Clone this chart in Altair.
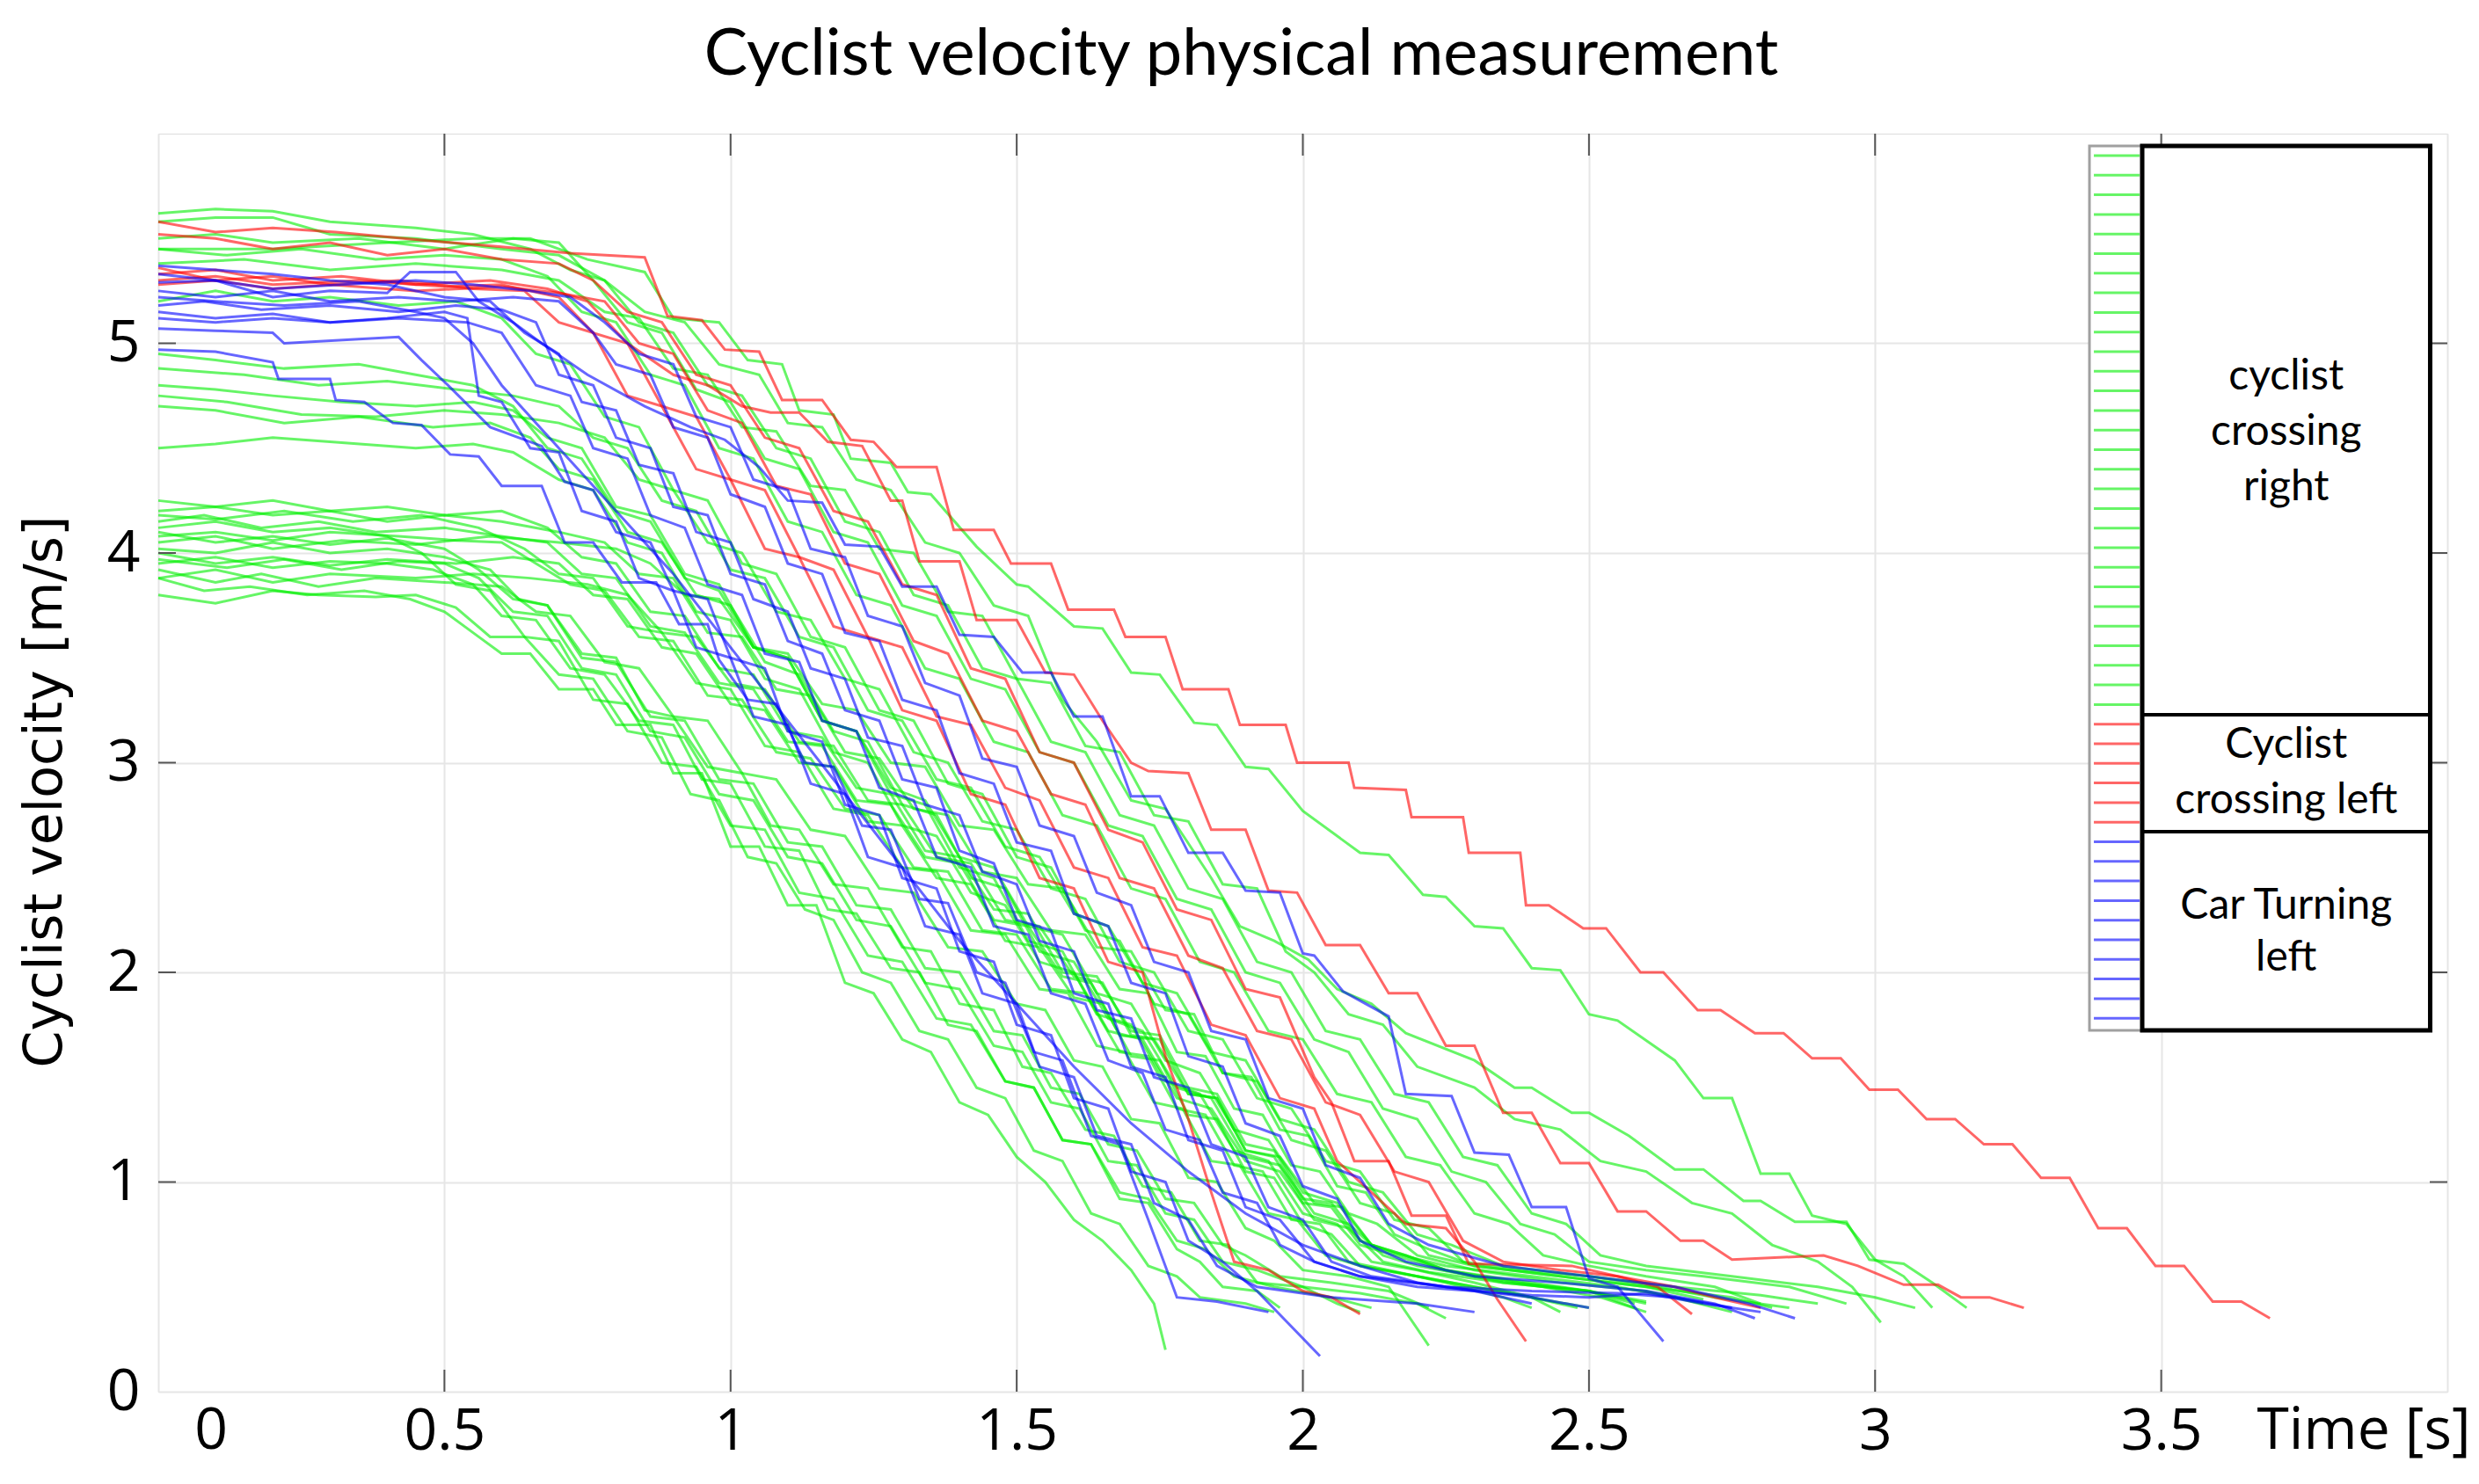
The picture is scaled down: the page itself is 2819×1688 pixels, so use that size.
import altair as alt
import pandas as pd

# ---------------- data (t [s], v [m/s]) ----------------
GREEN_CURVES = [
    [(0,3.88),(0.08,3.82),(0.16,3.84),(0.26,3.8),(0.36,3.82),(0.44,3.78),(0.5,3.72),(0.55,3.62),(0.6,3.52),(0.65,3.52),(0.7,3.35),(0.76,3.35),(0.8,3.18),(0.86,3.18),(0.9,2.95),(0.95,2.95),(1.0,2.6),(1.05,2.6),(1.1,2.32),(1.15,2.32),(1.2,1.95),(1.25,1.9),(1.3,1.68),(1.35,1.62),(1.4,1.38),(1.45,1.32),(1.5,1.12),(1.55,1.0),(1.6,0.82),(1.65,0.72),(1.7,0.58),(1.74,0.42),(1.76,0.2)],
    [(0,3.8),(0.1,3.76),(0.2,3.82),(0.28,3.8),(0.38,3.79),(0.45,3.8),(0.52,3.74),(0.58,3.6),(0.64,3.6),(0.7,3.42),(0.76,3.4),(0.82,3.15),(0.88,3.12),(0.93,2.85),(0.98,2.82),(1.03,2.55),(1.08,2.52),(1.13,2.3),(1.18,2.25),(1.23,2.0),(1.28,1.95),(1.33,1.72),(1.38,1.68),(1.43,1.45),(1.48,1.4),(1.53,1.15),(1.58,1.1),(1.63,0.85),(1.68,0.8),(1.73,0.6),(1.78,0.55),(1.82,0.45),(1.9,0.42),(1.95,0.38)],
    [(0,3.95),(0.1,3.98),(0.2,3.93),(0.3,3.96),(0.4,3.95),(0.48,3.92),(0.55,3.85),(0.6,3.7),(0.66,3.68),(0.72,3.45),(0.78,3.42),(0.84,3.2),(0.9,3.18),(0.95,2.92),(1.0,2.9),(1.06,2.6),(1.12,2.58),(1.17,2.3),(1.22,2.28),(1.28,2.02),(1.33,2.0),(1.38,1.75),(1.43,1.72),(1.48,1.48),(1.53,1.45),(1.58,1.2),(1.63,1.18),(1.68,0.92),(1.73,0.9),(1.78,0.68),(1.82,0.62),(1.86,0.5),(1.92,0.48),(1.96,0.4)],
    [(0,4.02),(0.1,4.0),(0.2,4.05),(0.3,4.0),(0.4,4.02),(0.5,3.98),(0.58,3.92),(0.63,3.78),(0.68,3.75),(0.74,3.52),(0.8,3.5),(0.85,3.25),(0.9,3.22),(0.96,2.98),(1.02,2.95),(1.07,2.7),(1.12,2.68),(1.18,2.42),(1.24,2.4),(1.3,2.12),(1.35,2.1),(1.4,1.85),(1.46,1.82),(1.51,1.55),(1.56,1.52),(1.62,1.25),(1.67,1.22),(1.72,0.98),(1.77,0.95),(1.82,0.72),(1.87,0.7),(1.92,0.52),(2.0,0.5),(2.06,0.42),(2.1,0.38)],
    [(0,3.92),(0.1,3.86),(0.18,3.9),(0.28,3.84),(0.38,3.88),(0.5,3.86),(0.6,3.84),(0.66,3.72),(0.72,3.7),(0.78,3.48),(0.84,3.45),(0.9,3.22),(0.96,3.2),(1.02,2.95),(1.08,2.92),(1.14,2.68),(1.2,2.65),(1.26,2.4),(1.32,2.38),(1.38,2.12),(1.44,2.1),(1.5,1.85),(1.55,1.82),(1.6,1.58),(1.65,1.55),(1.7,1.3),(1.75,1.28),(1.8,1.02),(1.85,1.0),(1.9,0.78),(1.95,0.72),(2.0,0.58),(2.08,0.55),(2.15,0.5),(2.22,0.22)],
    [(0,4.08),(0.1,4.1),(0.2,4.06),(0.3,4.1),(0.42,4.08),(0.52,4.06),(0.6,4.05),(0.66,3.95),(0.72,3.85),(0.78,3.82),(0.84,3.6),(0.9,3.58),(0.96,3.32),(1.02,3.3),(1.08,3.05),(1.14,3.02),(1.2,2.78),(1.26,2.75),(1.32,2.5),(1.38,2.48),(1.44,2.2),(1.5,2.18),(1.56,1.92),(1.62,1.9),(1.68,1.62),(1.73,1.6),(1.78,1.35),(1.83,1.32),(1.88,1.08),(1.93,1.05),(1.98,0.82),(2.03,0.8),(2.08,0.62),(2.15,0.58),(2.25,0.52),(2.35,0.45),(2.4,0.4)],
    [(0,4.15),(0.08,4.18),(0.18,4.12),(0.28,4.15),(0.38,4.1),(0.5,4.12),(0.6,4.08),(0.68,4.05),(0.74,3.9),(0.8,3.88),(0.86,3.65),(0.92,3.62),(0.98,3.38),(1.04,3.35),(1.1,3.1),(1.16,3.08),(1.22,2.82),(1.28,2.8),(1.34,2.55),(1.4,2.52),(1.46,2.25),(1.52,2.22),(1.58,1.98),(1.63,1.95),(1.68,1.7),(1.74,1.68),(1.8,1.42),(1.85,1.4),(1.9,1.15),(1.96,1.12),(2.02,0.9),(2.07,0.88),(2.12,0.7),(2.18,0.65),(2.25,0.58),(2.4,0.52),(2.5,0.48),(2.6,0.42)],
    [(0,4.0),(0.1,3.95),(0.2,3.98),(0.3,3.94),(0.4,3.97),(0.52,3.95),(0.62,3.98),(0.7,3.95),(0.76,3.8),(0.82,3.78),(0.88,3.55),(0.94,3.52),(1.0,3.28),(1.06,3.25),(1.12,3.0),(1.18,2.98),(1.24,2.72),(1.3,2.7),(1.36,2.45),(1.42,2.42),(1.48,2.15),(1.54,2.12),(1.6,1.88),(1.65,1.85),(1.7,1.6),(1.75,1.58),(1.8,1.32),(1.85,1.3),(1.9,1.05),(1.95,1.02),(2.0,0.8),(2.05,0.75),(2.1,0.6),(2.2,0.55),(2.3,0.5),(2.4,0.45),(2.45,0.38)],
    [(0,4.2),(0.1,4.22),(0.2,4.18),(0.3,4.2),(0.4,4.15),(0.5,4.18),(0.6,4.15),(0.7,4.1),(0.78,4.05),(0.84,3.9),(0.9,3.88),(0.96,3.62),(1.02,3.6),(1.08,3.35),(1.14,3.32),(1.2,3.05),(1.26,3.02),(1.32,2.78),(1.38,2.75),(1.44,2.48),(1.5,2.45),(1.56,2.2),(1.62,2.18),(1.68,1.92),(1.73,1.9),(1.78,1.62),(1.83,1.6),(1.88,1.35),(1.93,1.32),(1.98,1.08),(2.03,1.05),(2.08,0.85),(2.13,0.8),(2.2,0.65),(2.3,0.58),(2.45,0.52),(2.6,0.48),(2.7,0.42)],
    [(0,4.05),(0.1,4.08),(0.2,4.02),(0.32,4.06),(0.45,4.04),(0.58,4.08),(0.7,4.05),(0.8,4.02),(0.86,3.95),(0.92,3.8),(0.98,3.78),(1.04,3.55),(1.1,3.52),(1.16,3.28),(1.22,3.25),(1.28,3.0),(1.34,2.98),(1.4,2.7),(1.46,2.68),(1.52,2.42),(1.58,2.4),(1.64,2.12),(1.7,2.1),(1.76,1.82),(1.81,1.8),(1.86,1.52),(1.91,1.5),(1.96,1.25),(2.01,1.22),(2.06,0.98),(2.11,0.95),(2.16,0.75),(2.22,0.68),(2.3,0.6),(2.45,0.55),(2.6,0.5),(2.75,0.45),(2.82,0.4)],
    [(0,4.12),(0.1,4.15),(0.2,4.1),(0.3,4.12),(0.4,4.08),(0.46,4.0),(0.52,3.85),(0.58,3.82),(0.64,3.6),(0.7,3.58),(0.76,3.3),(0.82,3.28),(0.88,3.0),(0.94,2.98),(1.0,2.7),(1.06,2.68),(1.12,2.38),(1.18,2.35),(1.24,2.08),(1.3,2.05),(1.36,1.78),(1.42,1.75),(1.48,1.48),(1.53,1.45),(1.58,1.2),(1.63,1.18),(1.68,0.95),(1.73,0.92),(1.78,0.72),(1.83,0.68),(1.88,0.55),(1.95,0.5),(2.05,0.45),(2.12,0.4)],
    [(0,3.97),(0.12,3.93),(0.22,3.97),(0.32,3.92),(0.42,3.96),(0.5,3.95),(0.56,3.88),(0.62,3.72),(0.68,3.7),(0.74,3.45),(0.8,3.42),(0.86,3.15),(0.92,3.12),(0.98,2.85),(1.04,2.82),(1.1,2.55),(1.16,2.52),(1.22,2.25),(1.28,2.22),(1.34,1.95),(1.4,1.92),(1.46,1.65),(1.51,1.62),(1.56,1.38),(1.61,1.35),(1.66,1.1),(1.71,1.08),(1.76,0.85),(1.81,0.82),(1.86,0.62),(1.92,0.58),(2.0,0.5),(2.1,0.47),(2.2,0.42),(2.25,0.35)],
    [(0,4.25),(0.1,4.22),(0.2,4.25),(0.3,4.2),(0.4,4.22),(0.5,4.18),(0.6,4.2),(0.68,4.12),(0.74,3.98),(0.8,3.95),(0.86,3.72),(0.92,3.7),(0.98,3.45),(1.04,3.42),(1.1,3.15),(1.16,3.12),(1.22,2.88),(1.28,2.85),(1.34,2.58),(1.4,2.55),(1.46,2.3),(1.52,2.28),(1.58,2.0),(1.64,1.98),(1.7,1.72),(1.75,1.7),(1.8,1.45),(1.85,1.42),(1.9,1.18),(1.95,1.15),(2.0,0.92),(2.05,0.9),(2.1,0.72),(2.16,0.66),(2.25,0.6),(2.4,0.55),(2.55,0.5),(2.65,0.45),(2.75,0.38)],
    [(0,3.88),(0.1,3.92),(0.2,3.86),(0.3,3.9),(0.45,3.88),(0.55,3.9),(0.65,3.88),(0.75,3.85),(0.82,3.8),(0.88,3.62),(0.94,3.6),(1.0,3.38),(1.06,3.35),(1.12,3.1),(1.18,3.08),(1.24,2.82),(1.3,2.8),(1.36,2.55),(1.42,2.52),(1.48,2.25),(1.54,2.22),(1.6,1.98),(1.65,1.95),(1.7,1.7),(1.75,1.68),(1.8,1.42),(1.85,1.4),(1.9,1.15),(1.95,1.12),(2.0,0.9),(2.05,0.88),(2.1,0.7),(2.16,0.65),(2.25,0.58),(2.35,0.52),(2.5,0.48),(2.58,0.4)],
    [(0,4.1),(0.1,4.05),(0.2,4.08),(0.3,4.04),(0.4,4.07),(0.5,4.02),(0.56,3.92),(0.62,3.78),(0.68,3.75),(0.74,3.5),(0.8,3.48),(0.86,3.22),(0.92,3.2),(0.98,2.92),(1.04,2.9),(1.1,2.62),(1.16,2.6),(1.22,2.32),(1.28,2.3),(1.34,2.02),(1.4,2.0),(1.46,1.72),(1.51,1.7),(1.56,1.45),(1.61,1.42),(1.66,1.18),(1.71,1.15),(1.76,0.92),(1.81,0.9),(1.86,0.7),(1.9,0.65),(1.96,0.55),(2.05,0.52),(2.15,0.48),(2.22,0.4)],
    [(0,4.18),(0.1,4.16),(0.22,4.2),(0.34,4.15),(0.46,4.18),(0.56,4.12),(0.64,4.02),(0.7,3.9),(0.76,3.88),(0.82,3.65),(0.88,3.62),(0.94,3.38),(1.0,3.35),(1.06,3.08),(1.12,3.05),(1.18,2.78),(1.24,2.75),(1.3,2.5),(1.36,2.48),(1.42,2.2),(1.48,2.18),(1.54,1.92),(1.59,1.9),(1.64,1.65),(1.69,1.62),(1.74,1.38),(1.79,1.35),(1.84,1.1),(1.89,1.08),(1.94,0.85),(1.99,0.82),(2.04,0.65),(2.1,0.6),(2.2,0.55),(2.3,0.5),(2.4,0.45),(2.5,0.4)],
    # high-speed group
    [(0,5.45),(0.2,5.45),(0.4,5.48),(0.55,5.5),(0.65,5.5),(0.75,5.4),(0.85,5.34),(0.9,5.12),(0.98,5.1),(1.03,4.92),(1.09,4.9),(1.12,4.68),(1.18,4.66),(1.21,4.45),(1.28,4.43),(1.31,4.29),(1.35,4.28),(1.43,4.03),(1.5,3.85),(1.52,3.84),(1.6,3.65),(1.65,3.64),(1.7,3.43),(1.75,3.42),(1.81,3.19),(1.85,3.18),(1.9,2.98),(1.94,2.97),(2.0,2.77),(2.1,2.57),(2.15,2.56),(2.21,2.37),(2.25,2.36),(2.3,2.22),(2.35,2.21),(2.4,2.02),(2.45,2.01),(2.5,1.8),(2.55,1.77),(2.65,1.58),(2.7,1.4),(2.75,1.4),(2.8,1.04),(2.85,1.04),(2.89,0.84),(2.95,0.8),(3.0,0.63),(3.05,0.55),(3.1,0.4)],
    [(0,5.58),(0.1,5.6),(0.2,5.6),(0.3,5.52),(0.45,5.5),(0.6,5.45),(0.7,5.42),(0.78,5.3),(0.85,5.15),(0.92,5.1),(0.98,4.9),(1.05,4.85),(1.1,4.62),(1.16,4.6),(1.22,4.35),(1.28,4.3),(1.34,4.05),(1.4,4.0),(1.46,3.75),(1.52,3.7),(1.58,3.3),(1.64,3.1),(1.7,2.82),(1.76,2.78),(1.84,2.45),(1.89,2.22),(1.95,2.15),(2.01,2.06),(2.06,1.92),(2.12,1.85),(2.18,1.71),(2.3,1.58),(2.37,1.45),(2.4,1.45),(2.47,1.33),(2.5,1.33),(2.57,1.22),(2.65,1.06),(2.7,1.06),(2.77,0.91),(2.8,0.91),(2.86,0.81),(2.95,0.81),(2.99,0.63),(3.05,0.61),(3.1,0.52),(3.16,0.4)],
    [(0,5.38),(0.15,5.4),(0.3,5.35),(0.45,5.38),(0.6,5.35),(0.7,5.3),(0.78,5.15),(0.84,5.12),(0.9,4.88),(0.96,4.85),(1.02,4.6),(1.08,4.58),(1.14,4.32),(1.2,4.3),(1.26,4.02),(1.32,4.0),(1.38,3.72),(1.44,3.7),(1.5,3.4),(1.56,3.38),(1.62,3.08),(1.68,3.05),(1.74,2.75),(1.8,2.72),(1.86,2.42),(1.92,2.4),(1.97,2.1),(2.02,2.0),(2.08,1.8),(2.14,1.75),(2.2,1.55),(2.3,1.45),(2.37,1.3),(2.45,1.25),(2.52,1.1),(2.6,1.05),(2.68,0.9),(2.75,0.85),(2.82,0.7),(2.9,0.62),(2.96,0.5),(3.01,0.33)],
    [(0,5.62),(0.1,5.64),(0.2,5.63),(0.3,5.58),(0.45,5.55),(0.55,5.52),(0.65,5.45),(0.72,5.35),(0.78,5.3),(0.84,5.1),(0.9,5.05),(0.96,4.8),(1.02,4.75),(1.08,4.5),(1.14,4.45),(1.2,4.15),(1.26,4.1),(1.32,3.8),(1.38,3.75),(1.44,3.45),(1.5,3.4),(1.56,3.1),(1.62,3.05),(1.68,2.75),(1.74,2.7),(1.8,2.4),(1.86,2.35),(1.92,2.05),(1.98,2.0),(2.04,1.72),(2.1,1.68),(2.16,1.42),(2.22,1.38),(2.28,1.12),(2.34,1.08),(2.4,0.85),(2.46,0.8),(2.52,0.65),(2.6,0.6),(2.75,0.55),(2.9,0.5),(3.0,0.45),(3.07,0.4)],
    [(0,5.5),(0.1,5.52),(0.2,5.48),(0.35,5.5),(0.5,5.45),(0.62,5.5),(0.7,5.48),(0.76,5.3),(0.82,5.1),(0.88,5.05),(0.94,4.78),(1.0,4.72),(1.06,4.45),(1.12,4.4),(1.18,4.1),(1.24,4.05),(1.3,3.75),(1.36,3.7),(1.42,3.4),(1.48,3.35),(1.54,3.05),(1.6,3.0),(1.66,2.7),(1.72,2.65),(1.78,2.35),(1.84,2.3),(1.9,2.0),(1.96,1.95),(2.02,1.68),(2.08,1.62),(2.14,1.35),(2.2,1.3),(2.26,1.05),(2.32,1.0),(2.38,0.8),(2.44,0.75),(2.5,0.62),(2.6,0.58),(2.7,0.55),(2.85,0.5),(2.95,0.42)],
    [(0,5.45),(0.12,5.42),(0.25,5.45),(0.38,5.4),(0.5,5.42),(0.6,5.4),(0.68,5.32),(0.74,5.15),(0.8,5.1),(0.86,4.85),(0.92,4.8),(0.98,4.5),(1.04,4.45),(1.1,4.15),(1.16,4.1),(1.22,3.8),(1.28,3.75),(1.34,3.45),(1.4,3.4),(1.46,3.1),(1.52,3.05),(1.58,2.75),(1.64,2.7),(1.7,2.4),(1.76,2.35),(1.82,2.05),(1.88,2.0),(1.94,1.72),(2.0,1.68),(2.06,1.42),(2.12,1.38),(2.18,1.12),(2.24,1.08),(2.3,0.85),(2.36,0.8),(2.42,0.65),(2.5,0.6),(2.6,0.55),(2.72,0.5),(2.8,0.42)],
    [(0,5.2),(0.1,5.25),(0.2,5.2),(0.3,5.22),(0.42,5.18),(0.52,5.2),(0.6,5.12),(0.66,4.95),(0.72,4.9),(0.78,4.65),(0.84,4.6),(0.9,4.3),(0.96,4.25),(1.02,3.95),(1.08,3.9),(1.14,3.6),(1.2,3.55),(1.26,3.25),(1.32,3.2),(1.38,2.9),(1.44,2.85),(1.5,2.55),(1.56,2.5),(1.62,2.2),(1.68,2.15),(1.74,1.85),(1.8,1.8),(1.86,1.52),(1.92,1.48),(1.98,1.2),(2.04,1.15),(2.1,0.9),(2.16,0.85),(2.22,0.65),(2.3,0.6),(2.45,0.55),(2.6,0.5),(2.7,0.44)],
    [(0,4.95),(0.1,4.92),(0.22,4.88),(0.35,4.9),(0.45,4.85),(0.55,4.8),(0.62,4.7),(0.68,4.5),(0.74,4.45),(0.8,4.2),(0.86,4.15),(0.92,3.88),(0.98,3.82),(1.04,3.55),(1.1,3.5),(1.16,3.2),(1.22,3.15),(1.28,2.88),(1.34,2.82),(1.4,2.55),(1.46,2.5),(1.52,2.22),(1.58,2.18),(1.64,1.9),(1.7,1.85),(1.76,1.58),(1.82,1.52),(1.88,1.25),(1.94,1.2),(2.0,0.95),(2.06,0.9),(2.12,0.7),(2.18,0.65),(2.25,0.58),(2.38,0.52),(2.5,0.48),(2.58,0.42)],
    [(0,4.88),(0.15,4.85),(0.28,4.8),(0.4,4.82),(0.52,4.78),(0.62,4.75),(0.7,4.7),(0.76,4.55),(0.82,4.5),(0.88,4.25),(0.94,4.2),(1.0,3.92),(1.06,3.88),(1.12,3.6),(1.18,3.55),(1.24,3.25),(1.3,3.2),(1.36,2.92),(1.42,2.88),(1.48,2.6),(1.54,2.55),(1.6,2.28),(1.66,2.22),(1.72,1.95),(1.78,1.9),(1.84,1.62),(1.9,1.58),(1.96,1.3),(2.02,1.25),(2.08,1.0),(2.14,0.95),(2.2,0.75),(2.26,0.7),(2.35,0.6),(2.5,0.55),(2.65,0.5),(2.8,0.46),(2.9,0.42)],
    [(0,4.8),(0.1,4.78),(0.2,4.75),(0.32,4.72),(0.45,4.7),(0.55,4.72),(0.62,4.68),(0.68,4.55),(0.74,4.5),(0.8,4.22),(0.86,4.18),(0.92,3.9),(0.98,3.85),(1.04,3.55),(1.1,3.5),(1.16,3.2),(1.22,3.15),(1.28,2.85),(1.34,2.8),(1.4,2.5),(1.46,2.45),(1.52,2.15),(1.58,2.1),(1.64,1.8),(1.7,1.75),(1.76,1.48),(1.82,1.42),(1.88,1.15),(1.94,1.1),(2.0,0.85),(2.06,0.8),(2.12,0.62),(2.2,0.58),(2.3,0.52),(2.4,0.45),(2.48,0.4)],
    [(0,4.75),(0.12,4.72),(0.25,4.66),(0.38,4.65),(0.5,4.68),(0.6,4.66),(0.7,4.62),(0.78,4.55),(0.84,4.35),(0.9,4.3),(0.96,4.05),(1.02,4.0),(1.08,3.72),(1.14,3.68),(1.2,3.4),(1.26,3.35),(1.32,3.05),(1.38,3.0),(1.44,2.72),(1.5,2.68),(1.56,2.4),(1.62,2.35),(1.68,2.05),(1.74,2.0),(1.8,1.72),(1.86,1.68),(1.92,1.4),(1.98,1.35),(2.04,1.1),(2.1,1.05),(2.16,0.82),(2.22,0.78),(2.28,0.62),(2.38,0.58),(2.5,0.55),(2.62,0.5),(2.72,0.45),(2.85,0.4)],
    [(0,4.5),(0.1,4.52),(0.2,4.55),(0.3,4.53),(0.45,4.5),(0.55,4.52),(0.62,4.48),(0.7,4.35),(0.76,4.3),(0.82,4.05),(0.88,4.0),(0.94,3.72),(1.0,3.68),(1.06,3.4),(1.12,3.35),(1.18,3.05),(1.24,3.0),(1.3,2.7),(1.36,2.65),(1.42,2.38),(1.48,2.32),(1.54,2.05),(1.6,2.0),(1.66,1.72),(1.72,1.68),(1.78,1.4),(1.84,1.35),(1.9,1.1),(1.96,1.05),(2.02,0.82),(2.08,0.78),(2.14,0.62),(2.22,0.57),(2.35,0.52),(2.5,0.48),(2.6,0.43)],
    [(0,4.7),(0.1,4.68),(0.22,4.62),(0.35,4.65),(0.48,4.6),(0.58,4.62),(0.65,4.55),(0.7,4.4),(0.76,4.35),(0.82,4.1),(0.88,4.05),(0.94,3.8),(1.0,3.75),(1.06,3.48),(1.12,3.42),(1.18,3.15),(1.24,3.1),(1.3,2.8),(1.36,2.75),(1.42,2.45),(1.48,2.4),(1.54,2.1),(1.6,2.05),(1.66,1.78),(1.72,1.72),(1.78,1.45),(1.84,1.4),(1.9,1.12),(1.96,1.08),(2.02,0.85),(2.08,0.8),(2.14,0.65),(2.2,0.6),(2.3,0.55),(2.42,0.5),(2.52,0.45),(2.6,0.38)],
]

RED_CURVES = [
    [(0,5.58),(0.1,5.53),(0.2,5.55),(0.31,5.53),(0.47,5.49),(0.6,5.46),(0.72,5.43),(0.85,5.41),(0.89,5.13),(0.95,5.11),(0.99,4.97),(1.05,4.96),(1.09,4.73),(1.16,4.73),(1.21,4.54),(1.25,4.53),(1.29,4.41),(1.36,4.41),(1.39,4.11),(1.46,4.11),(1.49,3.95),(1.56,3.95),(1.59,3.73),(1.67,3.73),(1.69,3.6),(1.76,3.6),(1.79,3.35),(1.87,3.35),(1.89,3.18),(1.97,3.18),(1.99,3.0),(2.08,3.0),(2.09,2.88),(2.18,2.87),(2.19,2.74),(2.28,2.74),(2.29,2.57),(2.38,2.57),(2.39,2.32),(2.43,2.32),(2.49,2.21),(2.53,2.21),(2.59,2.0),(2.63,2.0),(2.69,1.82),(2.73,1.82),(2.79,1.71),(2.84,1.71),(2.89,1.59),(2.94,1.59),(2.99,1.44),(3.04,1.44),(3.09,1.3),(3.14,1.3),(3.19,1.18),(3.24,1.18),(3.29,1.02),(3.34,1.02),(3.39,0.78),(3.44,0.78),(3.49,0.6),(3.54,0.6),(3.59,0.43),(3.64,0.43),(3.69,0.35)],
    [(0,5.33),(0.1,5.35),(0.2,5.3),(0.32,5.32),(0.45,5.28),(0.58,5.3),(0.68,5.26),(0.75,5.2),(0.82,5.0),(0.9,4.85),(0.96,4.8),(1.02,4.7),(1.07,4.67),(1.12,4.67),(1.17,4.53),(1.23,4.51),(1.28,4.25),(1.3,4.25),(1.33,3.96),(1.4,3.96),(1.43,3.68),(1.5,3.68),(1.55,3.43),(1.6,3.42),(1.65,3.2),(1.7,3.0),(1.73,2.96),(1.8,2.95),(1.84,2.68),(1.9,2.68),(1.94,2.39),(1.99,2.38),(2.04,2.13),(2.1,2.13),(2.15,1.9),(2.2,1.9),(2.25,1.65),(2.3,1.65),(2.35,1.33),(2.4,1.33),(2.45,1.09),(2.5,1.09),(2.55,0.86),(2.6,0.86),(2.66,0.72),(2.7,0.72),(2.75,0.63),(2.91,0.65),(2.97,0.6),(3.05,0.51),(3.11,0.51),(3.15,0.45),(3.2,0.45),(3.26,0.4)],
    [(0,5.3),(0.1,5.32),(0.2,5.28),(0.35,5.3),(0.5,5.27),(0.6,5.28),(0.7,5.22),(0.76,5.05),(0.82,5.0),(0.88,4.7),(0.94,4.65),(1.0,4.35),(1.06,4.3),(1.12,3.98),(1.18,3.92),(1.24,3.6),(1.3,3.55),(1.36,3.22),(1.42,3.18),(1.48,2.88),(1.54,2.82),(1.6,2.5),(1.66,2.45),(1.72,2.12),(1.78,2.08),(1.84,1.75),(1.9,1.7),(1.96,1.4),(2.02,1.35),(2.06,1.1),(2.12,0.95),(2.18,0.8),(2.25,0.78),(2.3,0.62),(2.34,0.44),(2.39,0.24)],
    [(0,5.36),(0.1,5.3),(0.2,5.32),(0.3,5.28),(0.42,5.3),(0.55,5.26),(0.64,5.25),(0.7,5.1),(0.76,5.05),(0.82,4.75),(0.88,4.7),(0.94,4.4),(1.0,4.35),(1.06,4.02),(1.12,3.98),(1.18,3.65),(1.24,3.6),(1.3,3.25),(1.36,3.2),(1.42,2.85),(1.48,2.8),(1.54,2.45),(1.6,2.4),(1.66,2.05),(1.72,2.0),(1.76,1.6),(1.8,1.3),(1.84,0.95),(1.88,0.62),(1.94,0.58),(2.0,0.48),(2.05,0.45),(2.1,0.37)],
    [(0,5.52),(0.1,5.5),(0.2,5.45),(0.3,5.48),(0.4,5.42),(0.5,5.45),(0.6,5.4),(0.7,5.38),(0.76,5.3),(0.82,5.15),(0.88,5.1),(0.94,4.85),(1.0,4.8),(1.06,4.55),(1.12,4.5),(1.18,4.2),(1.24,4.15),(1.3,3.85),(1.36,3.8),(1.42,3.45),(1.48,3.4),(1.54,3.05),(1.6,3.0),(1.66,2.68),(1.72,2.62),(1.78,2.3),(1.84,2.25),(1.9,1.92),(1.96,1.88),(2.02,1.5),(2.05,1.38),(2.09,1.1),(2.15,1.1),(2.19,0.84),(2.25,0.84),(2.29,0.61),(2.47,0.6),(2.55,0.55),(2.62,0.5),(2.68,0.37)],
    [(0,5.28),(0.1,5.3),(0.2,5.26),(0.3,5.28),(0.45,5.25),(0.6,5.27),(0.7,5.24),(0.78,5.2),(0.84,5.0),(0.9,4.95),(0.96,4.68),(1.02,4.62),(1.08,4.32),(1.14,4.28),(1.2,3.95),(1.26,3.9),(1.32,3.58),(1.38,3.52),(1.44,3.2),(1.5,3.15),(1.56,2.85),(1.62,2.8),(1.68,2.45),(1.74,2.4),(1.8,2.08),(1.86,2.02),(1.92,1.72),(1.98,1.68),(2.04,1.38),(2.1,1.32),(2.16,1.05),(2.22,1.0),(2.28,0.72),(2.35,0.62),(2.45,0.58),(2.55,0.55),(2.65,0.5),(2.72,0.45),(2.8,0.4)],
]

BLUE_CURVES = [
    [(0,4.97),(0.1,4.96),(0.2,4.91),(0.21,4.83),(0.3,4.83),(0.31,4.73),(0.36,4.72),(0.41,4.62),(0.46,4.61),(0.51,4.47),(0.56,4.46),(0.6,4.32),(0.67,4.32),(0.71,4.05),(0.76,4.05),(0.81,3.86),(0.87,3.86),(0.91,3.66),(0.96,3.66),(0.98,3.49),(1.03,3.3),(1.08,3.28),(1.13,3.0),(1.18,2.98),(1.23,2.7),(1.28,2.68),(1.33,2.35),(1.38,2.33),(1.43,2.0),(1.48,1.95),(1.53,1.62),(1.58,1.58),(1.63,1.22),(1.68,1.18),(1.73,0.82),(1.78,0.45),(1.85,0.43),(1.94,0.38)],
    [(0,5.07),(0.1,5.06),(0.2,5.05),(0.22,5.0),(0.35,5.02),(0.42,5.03),(0.46,4.92),(0.51,4.79),(0.58,4.6),(0.63,4.55),(0.67,4.51),(0.71,4.34),(0.76,4.3),(0.8,4.1),(0.86,4.05),(0.9,3.82),(0.96,3.78),(1.0,3.5),(1.06,3.45),(1.1,3.15),(1.16,3.1),(1.2,2.8),(1.26,2.75),(1.3,2.45),(1.36,2.4),(1.4,2.1),(1.46,2.05),(1.5,1.75),(1.56,1.7),(1.6,1.4),(1.66,1.35),(1.7,1.05),(1.76,1.0),(1.8,0.72),(1.86,0.62),(1.92,0.48),(2.03,0.17)],
    [(0,5.12),(0.1,5.1),(0.2,5.12),(0.3,5.1),(0.4,5.12),(0.5,5.15),(0.54,5.12),(0.56,4.75),(0.6,4.72),(0.65,4.5),(0.7,4.48),(0.74,4.2),(0.8,4.15),(0.84,3.88),(0.9,3.82),(0.94,3.55),(1.0,3.5),(1.04,3.22),(1.1,3.18),(1.14,2.9),(1.2,2.85),(1.24,2.55),(1.3,2.5),(1.34,2.22),(1.4,2.18),(1.44,1.9),(1.5,1.85),(1.54,1.55),(1.6,1.5),(1.64,1.22),(1.7,1.18),(1.74,0.9),(1.8,0.82),(1.85,0.6),(1.92,0.5),(2.05,0.45),(2.2,0.42),(2.3,0.38)],
    [(0,5.18),(0.08,5.2),(0.18,5.16),(0.3,5.18),(0.42,5.15),(0.52,5.18),(0.6,5.16),(0.66,5.1),(0.7,4.85),(0.76,4.8),(0.8,4.55),(0.86,4.5),(0.9,4.22),(0.96,4.18),(1.0,3.9),(1.06,3.85),(1.1,3.58),(1.16,3.52),(1.2,3.25),(1.26,3.2),(1.3,2.92),(1.36,2.88),(1.4,2.58),(1.46,2.52),(1.5,2.25),(1.56,2.2),(1.6,1.9),(1.66,1.85),(1.7,1.55),(1.76,1.5),(1.8,1.2),(1.86,1.15),(1.9,0.88),(1.96,0.82),(2.02,0.62),(2.1,0.55),(2.25,0.5),(2.4,0.45),(2.5,0.4)],
    [(0,5.25),(0.1,5.22),(0.2,5.25),(0.3,5.2),(0.42,5.22),(0.52,5.2),(0.62,5.22),(0.7,5.2),(0.76,5.05),(0.8,4.9),(0.86,4.85),(0.9,4.6),(0.96,4.55),(1.0,4.28),(1.06,4.22),(1.1,3.95),(1.16,3.9),(1.2,3.62),(1.26,3.58),(1.3,3.3),(1.36,3.25),(1.4,2.95),(1.46,2.9),(1.5,2.62),(1.56,2.58),(1.6,2.28),(1.66,2.22),(1.7,1.95),(1.76,1.9),(1.8,1.6),(1.86,1.55),(1.9,1.28),(1.96,1.22),(2.0,0.98),(2.06,0.92),(2.1,0.72),(2.18,0.62),(2.3,0.55),(2.45,0.52),(2.6,0.48),(2.72,0.42),(2.79,0.35)],
    [(0,5.29),(0.1,5.3),(0.2,5.26),(0.32,5.28),(0.45,5.3),(0.55,5.28),(0.65,5.25),(0.72,5.22),(0.78,5.1),(0.84,4.95),(0.9,4.9),(0.94,4.65),(1.0,4.6),(1.04,4.35),(1.1,4.3),(1.14,4.02),(1.2,3.98),(1.24,3.7),(1.3,3.65),(1.34,3.38),(1.4,3.32),(1.44,3.02),(1.5,2.98),(1.54,2.7),(1.6,2.65),(1.64,2.38),(1.7,2.32),(1.74,2.05),(1.8,2.0),(1.84,1.72),(1.9,1.68),(1.94,1.4),(2.0,1.35),(2.04,1.08),(2.1,1.02),(2.15,0.8),(2.22,0.7),(2.35,0.6),(2.5,0.55),(2.65,0.5),(2.78,0.42),(2.86,0.35)],
    [(0,5.33),(0.1,5.3),(0.2,5.22),(0.3,5.25),(0.4,5.24),(0.44,5.34),(0.52,5.34),(0.56,5.2),(0.62,5.1),(0.67,5.0),(0.75,4.85),(0.85,4.7),(0.93,4.6),(0.99,4.54),(1.05,4.41),(1.1,4.25),(1.16,4.24),(1.2,4.04),(1.26,4.03),(1.3,3.84),(1.36,3.84),(1.4,3.61),(1.46,3.6),(1.51,3.43),(1.56,3.43),(1.6,3.22),(1.65,3.22),(1.7,2.84),(1.75,2.84),(1.8,2.57),(1.86,2.57),(1.9,2.39),(1.96,2.38),(2.0,2.09),(2.02,2.08),(2.07,1.91),(2.15,1.79),(2.18,1.42),(2.26,1.41),(2.3,1.14),(2.36,1.13),(2.4,0.88),(2.46,0.88),(2.5,0.54),(2.55,0.5),(2.63,0.24)],
    [(0,5.37),(0.1,5.35),(0.2,5.33),(0.3,5.3),(0.4,5.28),(0.5,5.22),(0.58,5.2),(0.64,5.05),(0.7,4.95),(0.74,4.72),(0.8,4.68),(0.84,4.42),(0.9,4.38),(0.94,4.1),(1.0,4.05),(1.04,3.78),(1.1,3.72),(1.14,3.45),(1.2,3.4),(1.24,3.12),(1.3,3.08),(1.34,2.8),(1.4,2.75),(1.44,2.48),(1.5,2.42),(1.54,2.15),(1.6,2.1),(1.64,1.82),(1.7,1.78),(1.74,1.5),(1.8,1.45),(1.84,1.18),(1.9,1.12),(1.94,0.88),(2.0,0.82),(2.05,0.62),(2.12,0.55),(2.25,0.5),(2.4,0.48),(2.55,0.47),(2.65,0.45),(2.75,0.4)],
    [(0,5.22),(0.1,5.2),(0.22,5.18),(0.35,5.2),(0.45,5.15),(0.5,5.12),(0.55,5.0),(0.6,4.8),(0.7,4.5),(0.8,4.2),(0.9,3.9),(1.0,3.55),(1.1,3.2),(1.2,2.85),(1.3,2.5),(1.4,2.15),(1.5,1.85),(1.6,1.55),(1.7,1.28),(1.8,1.05),(1.9,0.85),(2.0,0.7),(2.1,0.6),(2.2,0.52),(2.3,0.48),(2.4,0.46),(2.5,0.45),(2.6,0.47),(2.7,0.42),(2.8,0.38)],
    [(0,5.15),(0.1,5.12),(0.2,5.14),(0.3,5.1),(0.42,5.12),(0.54,5.1),(0.6,5.05),(0.66,4.8),(0.72,4.75),(0.76,4.5),(0.82,4.45),(0.86,4.18),(0.92,4.12),(0.96,3.85),(1.02,3.8),(1.06,3.52),(1.12,3.48),(1.16,3.2),(1.22,3.15),(1.26,2.88),(1.32,2.82),(1.36,2.55),(1.42,2.5),(1.46,2.22),(1.52,2.18),(1.56,1.9),(1.62,1.85),(1.66,1.58),(1.72,1.52),(1.76,1.25),(1.82,1.2),(1.86,0.95),(1.92,0.9),(1.96,0.7),(2.02,0.62),(2.1,0.55),(2.2,0.5),(2.3,0.48),(2.4,0.42)],
]

GROUPS = ["green", "red", "blue"]
GROUP_COLORS = ["#00ee00", "#ff0000", "#0000ff"]
LEGEND_LABELS = {
    "green": ["cyclist", "crossing", "right"],
    "red": ["Cyclist", "crossing left"],
    "blue": ["Car Turning", "left"],
}
X_TICKS = [0, 0.5, 1, 1.5, 2, 2.5, 3, 3.5, 4]
Y_TICKS = [0, 1, 2, 3, 4, 5]

# ---------------- build tables ----------------
rows = []
cid = 0
for grp, curves in zip(GROUPS, [GREEN_CURVES, RED_CURVES, BLUE_CURVES]):
    for pts in curves:
        for k, (t, v) in enumerate(pts):
            rows.append({"t": t, "v": v, "curve": cid, "k": k, "group": grp})
        cid += 1
df = pd.DataFrame(rows)

W, H = 2603, 1431
xs = alt.Scale(domain=[0, 4], nice=False, zero=False)
ys = alt.Scale(domain=[0, 6], nice=False, zero=False)
cs = alt.Scale(domain=GROUPS, range=GROUP_COLORS)

X_AXIS = alt.Axis(values=X_TICKS, format="~g",
                  labelExpr="datum.value == 0 || datum.value == 4 ? '' : datum.label",
                  labelFont="Open Sans", labelFontSize=66, labelColor="black", labelPadding=13,
                  ticks=False, tickSize=0, domain=False, grid=True, gridColor="#e6e6e6", gridWidth=2,
                  title=None, labelFlush=False)
Y_AXIS = alt.Axis(values=Y_TICKS, format="~g", labelFont="Open Sans", labelFontSize=66, labelColor="black",
                  labelPadding=21, ticks=False, tickSize=0, domain=False, grid=True,
                  gridColor="#e6e6e6", gridWidth=2,
                  title="Cyclist velocity [m/s]", titleFont="DejaVu Sans", titleFontSize=60,
                  titleFontWeight="normal", titleColor="black", titleAngle=270,
                  titleAlign="center", titleBaseline="middle", titleX=-129, titleY=748)


def X(field):
    return alt.X(field, scale=xs, axis=X_AXIS)


def Y(field):
    return alt.Y(field, scale=ys, axis=Y_AXIS)


lines = alt.Chart(df).mark_line(strokeWidth=3, opacity=0.6).encode(
    x=X("t:Q"), y=Y("v:Q"),
    color=alt.Color("group:N", scale=cs, legend=None),
    detail="curve:N",
    order="k:Q",
)

# inward tick marks (MATLAB style)
xt = pd.DataFrame({"t": [v for v in X_TICKS if 0 < v < 4]})
yt = pd.DataFrame({"v": [v for v in Y_TICKS if v > 0]})
tick_style = dict(color="#555555", strokeWidth=2)
xt_bot = alt.Chart(xt).mark_rule(**tick_style).encode(x=X("t:Q"), y=alt.value(H), y2=alt.value(H - 25))
xt_top = alt.Chart(xt).mark_rule(**tick_style).encode(x=X("t:Q"), y=alt.value(0), y2=alt.value(25))
yt_left = alt.Chart(yt).mark_rule(**tick_style).encode(y=Y("v:Q"), x=alt.value(0), x2=alt.value(20))
yt_right = alt.Chart(yt).mark_rule(**tick_style).encode(y=Y("v:Q"), x=alt.value(W), x2=alt.value(W - 20))

# x labels at the ends ("0" shifted, "Time [s]" in place of 4)
lab0 = alt.Chart(pd.DataFrame({"t": [0], "s": ["0"]})).mark_text(
    font="Open Sans", fontSize=66, color="black", baseline="top", align="center", dx=60).encode(
    x=X("t:Q"), y=alt.value(H + 13), text="s:N")
lab4 = alt.Chart(pd.DataFrame({"t": [4], "s": ["Time [s]"]})).mark_text(
    font="Open Sans", fontSize=66, color="black", baseline="top", align="center", dx=-95).encode(
    x=X("t:Q"), y=alt.value(H + 13), text="s:N")

# ---------------- legend box (layout in data units) ----------------
L_OUT_X0, L_SEP_X, L_X1 = 3.3746, 3.4668, 3.9700
L_Y_TOP, L_Y_BOT = 5.9413, 1.7233
L_DIV1, L_DIV2 = 3.2285, 2.6709
S_X0, S_X1 = 3.3823, 3.4622
S_TOP, S_STEP = 5.8952, 0.0935
TXT_X = (L_SEP_X + L_X1) / 2
TXT_ROWS = {"green": [4.84, 4.575, 4.31], "red": [3.08, 2.818], "blue": [2.314, 2.067]}

outer = alt.Chart(pd.DataFrame({"t": [L_OUT_X0], "b": [L_X1], "v": [L_Y_TOP], "d": [L_Y_BOT]})).mark_rect(
    fill="white", stroke="#a0a0a0", strokeWidth=3).encode(x=X("t:Q"), x2="b:Q", y=Y("v:Q"), y2="d:Q")
inner = alt.Chart(pd.DataFrame({"t": [L_SEP_X], "b": [L_X1], "v": [L_Y_TOP], "d": [L_Y_BOT]})).mark_rect(
    fill="white", stroke="black", strokeWidth=5).encode(x=X("t:Q"), x2="b:Q", y=Y("v:Q"), y2="d:Q")
divs = alt.Chart(pd.DataFrame({"t": [L_SEP_X, L_SEP_X], "b": [L_X1, L_X1], "v": [L_DIV1, L_DIV2]})).mark_rule(
    color="black", strokeWidth=4).encode(x=X("t:Q"), x2="b:Q", y=Y("v:Q"))

samp_rows = []
i = 0
for grp, curves in zip(GROUPS, [GREEN_CURVES, RED_CURVES, BLUE_CURVES]):
    for _ in curves:
        samp_rows.append({"t": S_X0, "b": S_X1, "v": S_TOP - i * S_STEP, "group": grp})
        i += 1
samples = alt.Chart(pd.DataFrame(samp_rows)).mark_rule(strokeWidth=3, opacity=0.6).encode(
    x=X("t:Q"), x2="b:Q", y=Y("v:Q"), color=alt.Color("group:N", scale=cs, legend=None))

txt_rows = []
for grp in GROUPS:
    for s, yv in zip(LEGEND_LABELS[grp], TXT_ROWS[grp]):
        txt_rows.append({"t": TXT_X, "v": yv, "s": s})
texts = alt.Chart(pd.DataFrame(txt_rows)).mark_text(
    font="Lato", fontSize=48, color="black", align="center", baseline="middle").encode(
    x=X("t:Q"), y=Y("v:Q"), text="s:N")

chart = alt.layer(
    lines, xt_bot, xt_top, yt_left, yt_right, lab0, lab4,
    outer, inner, divs, samples, texts,
).properties(
    width=W, height=H,
    padding={"left": 172, "top": 144, "right": 28, "bottom": 97},
    autosize=alt.AutoSizeParams(type="none"),
    title=alt.TitleParams("Cyclist velocity physical measurement", font="Lato", fontSize=74,
                          fontWeight="normal", color="black", anchor="middle", dx=-70, offset=50),
).configure_view(stroke="#a6a6a6", strokeWidth=3).configure(background="white")

chart.save("out.html", embed_options={"renderer": "svg", "actions": False})
